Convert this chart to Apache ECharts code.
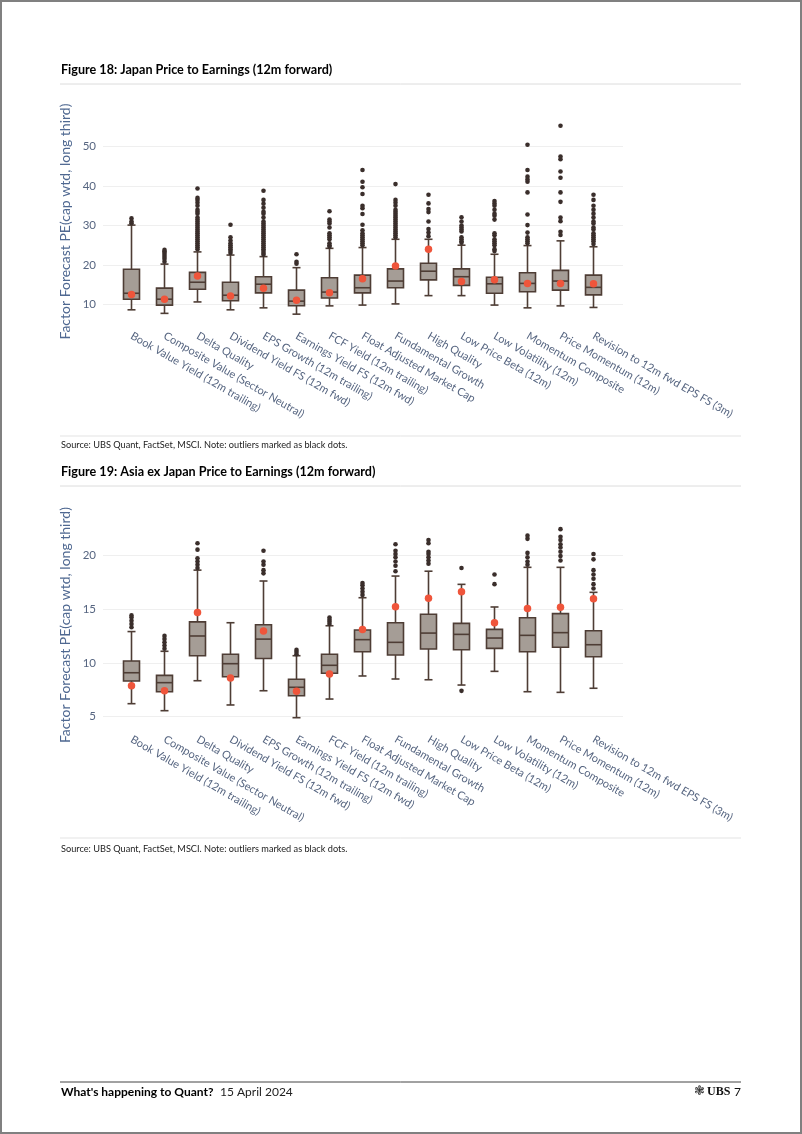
<!DOCTYPE html>
<html>
<head>
<meta charset="utf-8">
<script src="https://cdn.jsdelivr.net/npm/echarts@6/dist/echarts.min.js"></script>
<style>
html,body{margin:0;padding:0;background:#fff;}
#c{width:802px;height:1134px;}
</style>
</head>
<body>
<div id="c"></div>
<script>
// ---------- DATA ----------
const categories = [
  'Book Value Yield (12m trailing)',
  'Composite Value (Sector Neutral)',
  'Delta Quality',
  'Dividend Yield FS (12m fwd)',
  'EPS Growth (12m trailing)',
  'Earnings Yield FS (12m fwd)',
  'FCF Yield (12m trailing)',
  'Float Adjusted Market Cap',
  'Fundamental Growth',
  'High Quality',
  'Low Price Beta (12m)',
  'Low Volatility (12m)',
  'Momentum Composite',
  'Price Momentum (12m)',
  'Revision to 12m fwd EPS FS (3m)'
];

// Figure 18: Japan
const jpLow  = [8.6, 7.7, 10.6, 8.6, 9.1, 7.5, 9.6, 9.8, 10.1, 12.2, 12.2, 9.8, 9.1, 9.6, 9.2];
const jpQ1   = [11.3, 9.8, 13.8, 10.9, 12.9, 9.65, 11.6, 12.9, 14.2, 16.2, 14.8, 12.8, 13.2, 13.6, 12.4];
const jpMed  = [12.8, 11.3, 15.6, 12.3, 15.1, 10.8, 13.1, 14.2, 15.9, 18.4, 17.0, 15.2, 15.3, 15.9, 14.3];
const jpQ3   = [18.9, 14.1, 18.1, 15.6, 17.0, 13.6, 16.75, 17.4, 19.0, 20.4, 19.0, 16.85, 18.0, 18.6, 17.4];
const jpHigh = [30.1, 20.2, 23.3, 22.5, 22.1, 19.3, 24.2, 24.4, 26.5, 26.5, 25.0, 22.7, 24.9, 26.1, 24.6];
const jpMean = [12.5, 11.3, 17.2, 12.1, 14.1, 11.0, 12.9, 16.5, 19.7, 24.0, 15.8, 16.2, 15.3, 15.3, 15.2];
const jpOutliers = [
  [30.6, 31.0, 31.8],
  [20.8, 21.5, 22.0, 22.5, 23.0, 23.4, 23.8],
  [24.0, 24.5, 25.0, 25.5, 26.0, 26.5, 27.0, 27.5, 28.0, 28.5, 29.0, 29.5, 30.0, 30.5, 31.0, 31.5, 32.0, 33.0, 33.5, 34.0, 35.0, 35.8, 36.5, 37.0, 39.4],
  [23.0, 23.5, 24.0, 24.5, 25.0, 25.5, 26.2, 27.0, 30.2],
  [22.6, 23.0, 23.5, 24.0, 24.5, 25.0, 25.5, 26.0, 26.5, 27.0, 27.5, 28.0, 28.5, 29.0, 29.5, 30.0, 30.5, 31.0, 32.0, 33.0, 33.5, 34.5, 35.5, 36.5, 38.8],
  [20.3, 20.8, 22.7],
  [24.6, 25.0, 25.5, 26.5, 27.0, 27.5, 28.0, 29.5, 30.5, 31.0, 31.5, 33.6],
  [25.0, 25.5, 26.0, 26.5, 27.0, 27.5, 28.0, 28.8, 30.2, 32.9, 34.4, 35.0, 38.0, 39.7, 41.1, 44.1],
  [27.0, 27.5, 28.0, 28.5, 29.0, 29.5, 30.0, 30.5, 31.0, 31.5, 32.0, 32.5, 33.0, 33.5, 34.0, 35.0, 35.8, 36.5, 40.5],
  [27.3, 28.2, 29.1, 31.0, 33.4, 34.2, 35.6, 37.8],
  [25.6, 26.0, 26.5, 27.0, 28.5, 29.0, 29.5, 30.0, 31.0, 32.1],
  [23.5, 24.0, 25.0, 25.5, 26.0, 26.5, 27.5, 28.0, 31.5, 32.5, 33.0, 34.0, 35.0, 35.6, 36.2],
  [25.5, 26.0, 26.5, 27.0, 28.2, 30.1, 32.8, 38.4, 41.1, 41.7, 42.4, 44.1, 50.5],
  [27.6, 28.4, 31.1, 32.0, 36.0, 38.4, 42.1, 43.7, 46.8, 47.5, 55.3],
  [25.3, 26.0, 26.5, 27.0, 27.5, 28.0, 29.0, 29.5, 30.5, 31.0, 32.0, 33.0, 34.0, 35.0, 36.5, 37.8]
];
const jpTicks = [10, 20, 30, 40, 50];

// Figure 19: Asia ex Japan
const axLow  = [6.21, 5.56, 8.34, 6.09, 7.41, 4.91, 6.64, 8.78, 8.5, 8.43, 7.94, 9.21, 7.32, 7.26, 7.64];
const axQ1   = [8.31, 7.32, 10.66, 8.71, 10.4, 6.95, 9.03, 11.03, 10.72, 11.28, 11.22, 11.34, 11.03, 11.44, 10.57];
const axMed  = [9.08, 8.16, 12.49, 9.92, 12.2, 7.73, 9.77, 12.15, 11.9, 12.76, 12.64, 12.3, 12.55, 12.8, 11.68];
const axQ3   = [10.17, 8.84, 13.8, 10.79, 13.53, 8.47, 10.79, 13.04, 13.72, 14.5, 13.66, 13.1, 14.18, 14.56, 12.98];
const axHigh = [12.9, 11.07, 18.6, 13.72, 17.59, 10.66, 13.44, 16.04, 18.05, 18.5, 17.28, 15.18, 18.86, 18.86, 16.54];
const axMean = [7.88, 7.41, 14.68, 8.59, 12.95, 7.36, 8.96, 13.1, 15.2, 15.98, 16.6, 13.72, 15.05, 15.15, 15.95];
const axOutliers = [
  [13.3, 13.6, 13.9, 14.2, 14.4],
  [11.3, 11.6, 11.9, 12.2, 12.5],
  [18.8, 19.1, 19.4, 19.7, 20.5, 21.1],
  [],
  [18.3, 18.6, 19.1, 19.4, 20.4],
  [10.8, 11.0, 11.2],
  [13.6, 13.8, 14.0, 14.2],
  [16.3, 16.6, 16.9, 17.2, 17.4],
  [18.5, 19.0, 19.4, 19.8, 20.1, 20.4, 21.0],
  [19.2, 19.5, 19.8, 20.1, 20.3, 21.1, 21.4],
  [18.8, 7.4],
  [17.3, 18.2],
  [19.1, 19.4, 19.8, 20.2, 21.5, 21.8],
  [19.5, 19.9, 20.3, 20.7, 21.0, 21.4, 21.7, 22.4],
  [16.9, 17.3, 17.8, 18.2, 18.6, 19.6, 20.1]
];
const axTicks = [5, 10, 15, 20];

// ---------- STYLE ----------
const FONT = 'Lato';
const boxFill = '#a59d96';
const boxStroke = '#4e3d35';
const outColor = '#3a2e2b';
const meanColor = '#ef553b';
const tickColor = '#566580';
const nameColor = '#4f6891';
const gridColor = '#efefef';

function boxData(lo, q1, me, q3, hi) {
  return lo.map((v, i) => [i, lo[i], q1[i], me[i], q3[i], hi[i]]);
}
function outData(arr) {
  const r = [];
  arr.forEach((list, i) => list.forEach(v => r.push([i, v])));
  return r;
}
function meanData(arr) { return arr.map((v, i) => [i, v]); }

function renderBox(params, api) {
  const i = api.value(0);
  const pLow = api.coord([i, api.value(1)]);
  const pQ1 = api.coord([i, api.value(2)]);
  const pMed = api.coord([i, api.value(3)]);
  const pQ3 = api.coord([i, api.value(4)]);
  const pHigh = api.coord([i, api.value(5)]);
  const cx = pLow[0];
  const bw = 16, cw = 8;
  const ls = { stroke: boxStroke, lineWidth: 1.6 };
  return {
    type: 'group',
    children: [
      { type: 'line', shape: { x1: cx, y1: pHigh[1], x2: cx, y2: pQ3[1] }, style: ls },
      { type: 'line', shape: { x1: cx, y1: pQ1[1], x2: cx, y2: pLow[1] }, style: ls },
      { type: 'line', shape: { x1: cx - cw / 2, y1: pHigh[1], x2: cx + cw / 2, y2: pHigh[1] }, style: ls },
      { type: 'line', shape: { x1: cx - cw / 2, y1: pLow[1], x2: cx + cw / 2, y2: pLow[1] }, style: ls },
      { type: 'rect', shape: { x: cx - bw / 2, y: pQ3[1], width: bw, height: pQ1[1] - pQ3[1] },
        style: { fill: boxFill, stroke: boxStroke, lineWidth: 1.6 } },
      { type: 'line', shape: { x1: cx - bw / 2, y1: pMed[1], x2: cx + bw / 2, y2: pMed[1] }, style: ls }
    ]
  };
}

function yBg(gridIndex, min, max, interval, ticks) {
  const n = Math.round((max - min) / interval) + 1;
  const colors = [];
  for (let k = 0; k < n; k++) {
    const v = min + k * interval;
    colors.push(ticks.indexOf(v) >= 0 ? gridColor : 'rgba(0,0,0,0)');
  }
  return {
    type: 'value', gridIndex: gridIndex, min: min, max: max, interval: interval,
    axisLine: { show: false }, axisTick: { show: false },
    axisLabel: {
      color: tickColor, fontFamily: FONT, fontSize: 11.5, margin: 7,
      formatter: v => (ticks.indexOf(v) >= 0 ? String(v) : '')
    },
    splitLine: { show: true, lineStyle: { color: colors, width: 1 } }
  };
}
function yData(gridIndex, min, max) {
  return {
    type: 'value', gridIndex: gridIndex, min: min, max: max,
    name: 'Factor Forecast PE(cap wtd, long third)',
    nameLocation: 'middle', nameRotate: 90, nameGap: 43,
    nameTextStyle: { color: nameColor, fontFamily: FONT, fontSize: 14 },
    axisLine: { show: false }, axisTick: { show: false },
    axisLabel: { show: false }, splitLine: { show: false }
  };
}
function xCat(gridIndex) {
  return {
    type: 'category', gridIndex: gridIndex, data: categories, boundaryGap: true,
    axisLine: { show: false }, axisTick: { show: false }, splitLine: { show: false },
    axisLabel: { rotate: -30, interval: 0, margin: 11, color: tickColor, fontFamily: FONT, fontSize: 11 }
  };
}
function xHidden(gridIndex) {
  return { type: 'value', gridIndex: gridIndex, show: false, min: 0, max: 1 };
}

// chart 1 mapping: y(v) = 304.3 - (v-10)*3.94
// chart 2 mapping: y(v) = 555 - (v-20)*10.78
const grids = [
  { left: 103, width: 520, top: 107.3, height: 236.4 },   // bg 1 (0..60)
  { left: 115, width: 495, top: 119.1, height: 204.9 },   // data 1 (5..57)
  { left: 103, width: 520, top: 501.1, height: 269.5 },   // bg 2 (0..25)
  { left: 115, width: 495, top: 522.7, height: 204.8 }    // data 2 (4..23)
];

function seriesFor(xi, yi, lo, q1, me, q3, hi, outs, mean) {
  return [
    { type: 'custom', xAxisIndex: xi, yAxisIndex: yi, renderItem: renderBox,
      data: boxData(lo, q1, me, q3, hi), encode: { x: 0, y: [1, 2, 3, 4, 5] }, z: 2, silent: true },
    { type: 'scatter', xAxisIndex: xi, yAxisIndex: yi, data: outData(outs), symbolSize: 4.6,
      itemStyle: { color: outColor, opacity: 1 }, z: 3, silent: true },
    { type: 'scatter', xAxisIndex: xi, yAxisIndex: yi, data: meanData(mean), symbolSize: 7.5,
      itemStyle: { color: meanColor, opacity: 1 }, z: 4, silent: true }
  ];
}

const graphic = [
  { type: 'rect', shape: { x: 1, y: 1, width: 800, height: 1132 }, style: { fill: 'none', stroke: '#808080', lineWidth: 2 }, z: 100 },
  { type: 'text', left: 61, top: 63, style: { text: 'Figure 18: Japan Price to Earnings (12m forward)', font: 'bold 12.6px Lato', fill: '#000' } },
  { type: 'line', shape: { x1: 60, y1: 84, x2: 741, y2: 84 }, style: { stroke: '#dcdcdc', lineWidth: 1 } },
  { type: 'line', shape: { x1: 60, y1: 436, x2: 741, y2: 436 }, style: { stroke: '#e3e3e3', lineWidth: 1 } },
  { type: 'text', left: 61, top: 441, style: { text: 'Source: UBS Quant, FactSet, MSCI. Note: outliers marked as black dots.', font: '9.2px Lato', fill: '#222' } },
  { type: 'text', left: 61, top: 465, style: { text: 'Figure 19: Asia ex Japan Price to Earnings (12m forward)', font: 'bold 12.6px Lato', fill: '#000' } },
  { type: 'line', shape: { x1: 60, y1: 486, x2: 741, y2: 486 }, style: { stroke: '#dcdcdc', lineWidth: 1 } },
  { type: 'line', shape: { x1: 60, y1: 838, x2: 741, y2: 838 }, style: { stroke: '#e3e3e3', lineWidth: 1 } },
  { type: 'text', left: 61, top: 845, style: { text: 'Source: UBS Quant, FactSet, MSCI. Note: outliers marked as black dots.', font: '9.2px Lato', fill: '#222' } },
  { type: 'line', shape: { x1: 60, y1: 1082, x2: 741, y2: 1082 }, style: { stroke: '#444', lineWidth: 1 } },
  { type: 'text', left: 61, top: 1086, style: { text: "What's happening to Quant?", font: 'bold 12px Lato', fill: '#000' } },
  { type: 'text', left: 220, top: 1086, style: { text: '15 April 2024', font: '12px Lato', fill: '#222' } },
  { type: 'text', left: 694, top: 1085, style: { text: '\u2743', font: '13px DejaVu Sans', fill: '#333' } },
  { type: 'text', left: 707, top: 1086, style: { text: 'UBS', font: 'bold 12px Liberation Serif', fill: '#111' } },
  { type: 'text', left: 734, top: 1086, style: { text: '7', font: '12px Lato', fill: '#111' } }
];

const option = {
  backgroundColor: '#fff',
  animation: false,
  grid: grids,
  xAxis: [xHidden(0), xCat(1), xHidden(2), xCat(3)],
  yAxis: [
    yBg(0, 0, 60, 10, jpTicks), yData(1, 5, 57),
    yBg(2, 0, 25, 5, axTicks), yData(3, 4, 23)
  ],
  series: [].concat(
    seriesFor(1, 1, jpLow, jpQ1, jpMed, jpQ3, jpHigh, jpOutliers, jpMean),
    seriesFor(3, 3, axLow, axQ1, axMed, axQ3, axHigh, axOutliers, axMean)
  ),
  graphic: graphic
};

const chart = echarts.init(document.getElementById('c'), null, { renderer: 'canvas' });
chart.setOption(option);
</script>
</body>
</html>
